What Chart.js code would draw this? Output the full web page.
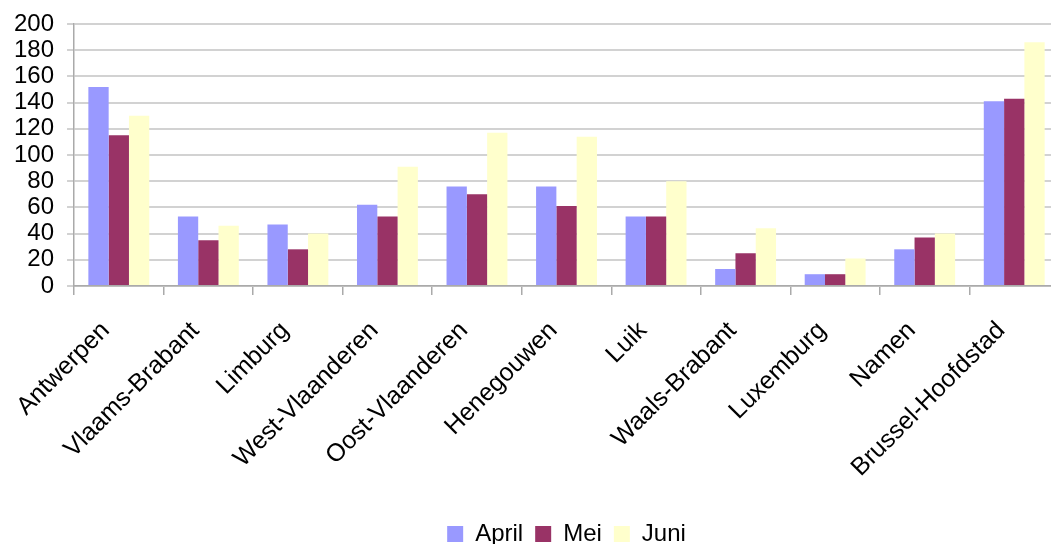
<!DOCTYPE html>
<html>
<head>
<meta charset="utf-8">
<script src="https://cdn.jsdelivr.net/npm/chart.js@4"></script>
<style>
  html, body { margin: 0; padding: 0; background: #fff; overflow: hidden; }
  #wrap { width: 1051px; height: 544px; overflow: hidden; position: relative; }
  #chart { position: absolute; left: 0; top: 0; }
</style>
</head>
<body>
<div id="wrap"><canvas id="chart" width="1059" height="556"></canvas></div>
<script>
// provincies
const provinces = ['Antwerpen', 'Vlaams-Brabant', 'Limburg', 'West-Vlaanderen', 'Oost-Vlaanderen',
    'Henegouwen', 'Luik', 'Waals-Brabant', 'Luxemburg', 'Namen', 'Brussel-Hoofdstad'];

const april = [152, 53, 47, 62, 76, 76, 53, 13, 9, 28, 141];
const mei   = [115, 35, 28, 53, 70, 61, 53, 25, 9, 37, 143];
const juni  = [130, 46, 40, 91, 117, 114, 80, 44, 21, 40, 186];

const seriesNames = ['April', 'Mei', 'Juni'];
const seriesColors = ['#9999ff', '#993366', '#ffffcc'];

const FONT = 'Liberation Sans, Arial, sans-serif';

const ctx = document.getElementById('chart').getContext('2d');
new Chart(ctx, {
    type: 'bar',
    data: {
        labels: provinces,
        datasets: [april, mei, juni].map((d, i) => ({
            label: seriesNames[i],
            data: d,
            backgroundColor: seriesColors[i],
            borderWidth: 0,
            categoryPercentage: 0.68,
            barPercentage: 1.0
        }))
    },
    options: {
        responsive: false,
        animation: false,
        layout: { padding: { left: 1, right: 0, top: 24, bottom: 0 } },
        plugins: {
            tooltip: { enabled: false },
            legend: {
                position: 'bottom',
                fullSize: false,   // gecentreerd onder het plotgebied
                labels: {
                    boxWidth: 16,
                    boxHeight: 16,
                    padding: 12,
                    color: '#000',
                    font: { family: FONT, size: 24 }
                }
            }
        },
        scales: {
            x: {
                afterFit: (s) => {
                    s.height = 224;
                    // schuine labels mogen het plotgebied niet verschuiven
                    s.paddingLeft = 0;
                    s.paddingRight = 0;
                },
                grid: { drawOnChartArea: false, tickLength: 9, color: '#aaaaaa', lineWidth: 1.5 },
                border: { color: '#aaaaaa', width: 1.5 },
                ticks: {
                    minRotation: 45,
                    maxRotation: 45,
                    padding: 21,
                    labelOffset: -13,
                    autoSkip: false,
                    color: '#000',
                    font: { family: FONT, size: 25 }
                }
            },
            y: {
                min: 0,
                max: 200,
                afterFit: (s) => { s.paddingTop = 0; s.paddingBottom = 0; },
                grid: { color: '#d2d2d2', lineWidth: 2, tickLength: 7 },
                border: { color: '#aaaaaa', width: 1.5 },
                ticks: {
                    stepSize: 20,
                    autoSkip: false,
                    padding: 13,
                    color: '#000',
                    font: { family: FONT, size: 24 }
                }
            }
        }
    }
});
</script>
</body>
</html>
